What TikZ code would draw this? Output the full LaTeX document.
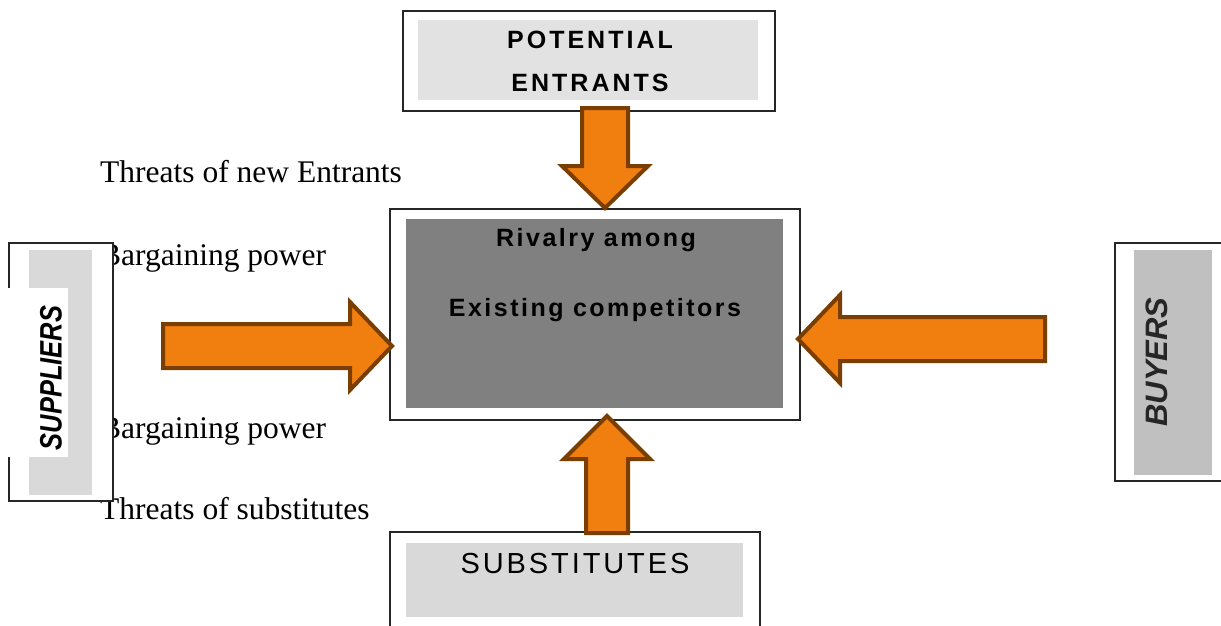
\documentclass[tikz,border=0pt]{standalone}
\usepackage{fontspec}
\setmainfont{Liberation Serif}
\newfontfamily\labA[LetterSpace=12]{Liberation Sans}
\newfontfamily\labB[LetterSpace=10]{Liberation Sans}
\newfontfamily\labC{Liberation Sans}
\definecolor{arrfill}{HTML}{F07F0F}
\definecolor{arrline}{HTML}{7A3E00}
\definecolor{lightbox}{HTML}{E2E2E2}
\definecolor{midbox}{HTML}{D9D9D9}
\definecolor{buybox}{HTML}{C0C0C0}
\definecolor{darkbox}{HTML}{808080}
\begin{document}
\begin{tikzpicture}[x=1pt,y=-1pt,
  frame/.style={draw=black!85,line width=1.3pt,fill=white},
  blockarrow/.style={draw=arrline,fill=arrfill,line width=4pt,line join=miter},
  sideText/.style={font=\fontsize{31.5}{31.5}\selectfont,anchor=base west,inner sep=0pt},
  capA/.style={font=\labA\bfseries\fontsize{25}{25}\selectfont,inner sep=0pt},
  capB/.style={font=\labB\bfseries\fontsize{25}{25}\selectfont,inner sep=0pt},
  vert/.style={font=\labC\bfseries\itshape\fontsize{31}{31}\selectfont,inner sep=0pt,rotate=90}
]
\useasboundingbox (0,0) rectangle (1221,626);
\fill[white] (0,0) rectangle (1221,626);

% side labels (drawn first, the suppliers box covers the first letter)
\node[sideText] (t1) at (100,182) {Threats of new Entrants};
\node[sideText] (t2) at (100,265) {Bargaining power};
\node[sideText] (t3) at (100,438) {Bargaining power};
\node[sideText] (t4) at (100,519) {Threats of substitutes};

% potential entrants
\draw[frame] (403,11) rectangle (775,111);
\fill[lightbox] (418,20) rectangle (758,100);
\node[capA] (pe1) at (590,40) {POTENTIAL};
\node[capA] (pe2) at (590,83) {ENTRANTS};

% center
\draw[frame] (390,209) rectangle (800,420);
\fill[darkbox] (406,219) rectangle (783,408);
\node[capB] (r1) at (596,240) {Rivalry among};
\node[capB] (r2) at (595,310) {Existing competitors};

% substitutes
\draw[frame] (390,532) rectangle (760,640);
\fill[midbox] (406,543) rectangle (743,617);
\node[font=\labB\fontsize{29}{29}\selectfont,inner sep=0pt] (sub) at (575,564) {SUBSTITUTES};

% buyers
\draw[frame] (1115,243) rectangle (1230,481);
\fill[buybox] (1134,250) rectangle (1212,475);
\node[vert,text=black!85] (buy) at (1157,362) {BUYERS};

% suppliers
\draw[frame] (9,243) rectangle (113,501);
\fill[midbox] (29,250) rectangle (92,495);
\fill[white] (3,288) rectangle (68,457);
\node[vert] (sup) at (51,378) {\scalebox{0.82}[1]{SUPPLIERS}};

% block arrows
\draw[blockarrow] (163,324) -- (350,324) -- (350,302) -- (392,346) -- (350,390) -- (350,368) -- (163,368) -- cycle;
\draw[blockarrow] (1045,317) -- (840,317) -- (840,295) -- (798,339) -- (840,383) -- (840,361) -- (1045,361) -- cycle;
\draw[blockarrow] (582,108) -- (628,108) -- (628,166) -- (648,166) -- (605,208) -- (562,166) -- (582,166) -- cycle;
\draw[blockarrow] (586,533) -- (628,533) -- (628,459) -- (650,459) -- (607,416) -- (564,459) -- (586,459) -- cycle;
\end{tikzpicture}
\end{document}
